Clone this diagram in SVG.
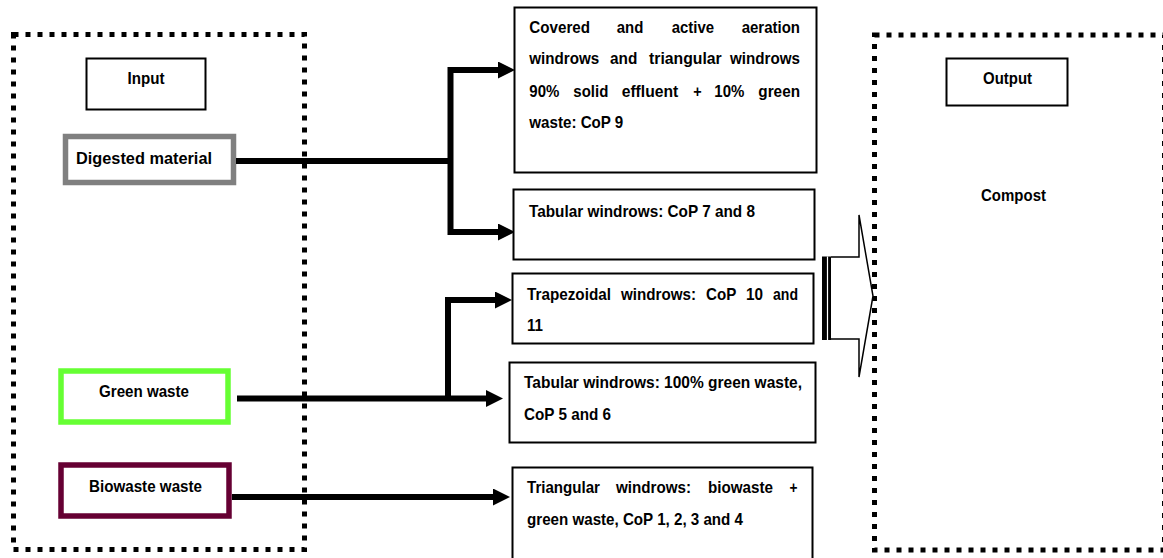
<svg xmlns="http://www.w3.org/2000/svg" width="1163" height="558" viewBox="0 0 1163 558">
<style>
text{font-family:"Liberation Sans",Arial,sans-serif;font-weight:bold;font-size:17px;fill:#000}
.c{text-anchor:middle}
.box{fill:#fff;stroke:#000;stroke-width:2}
.dot{fill:none;stroke:#000;stroke-width:5;stroke-dasharray:5 7}
.conn{fill:none;stroke:#000;stroke-width:6;stroke-linejoin:miter}
.inbox{fill:#fff;stroke-width:5.5}
</style>
<defs>
<marker id="ah" markerUnits="userSpaceOnUse" markerWidth="18" markerHeight="18" refX="5" refY="8.5" orient="auto">
<path d="M0,0 L17,8.5 L0,17 z" fill="#000"/>
</marker>
</defs>

<g id="input-frame">
<rect class="dot" x="13.5" y="34.5" width="291" height="515"/>
</g>
<g id="output-frame">
<rect class="dot" x="874.5" y="35" width="290" height="515"/>
</g>

<g id="input-title">
<rect class="box" x="86.5" y="58.5" width="119" height="51" stroke-width="1.5"/>
<text class="c" x="146" y="84" textLength="37" lengthAdjust="spacingAndGlyphs">Input</text>
</g>
<g id="digested">
<rect class="inbox" x="65.5" y="136.5" width="168" height="46" stroke="#808080"/>
<text class="c" x="144" y="164" textLength="136" lengthAdjust="spacingAndGlyphs">Digested material</text>
</g>
<g id="green">
<rect class="inbox" x="61" y="371" width="167" height="51" stroke="#66FF33"/>
<text class="c" x="144" y="397" textLength="90" lengthAdjust="spacingAndGlyphs">Green waste</text>
</g>
<g id="biowaste">
<rect class="inbox" x="61" y="465" width="168" height="51" stroke="#660033"/>
<text class="c" x="145.5" y="492" textLength="113" lengthAdjust="spacingAndGlyphs">Biowaste waste</text>
</g>

<g id="connectors">
<path class="conn" d="M236,161 H451"/>
<path class="conn" d="M450.5,161 V70 H503" marker-end="url(#ah)"/>
<path class="conn" d="M450.5,161 V232 H503" marker-end="url(#ah)"/>
<path class="conn" d="M237,398.5 H491" marker-end="url(#ah)"/>
<path class="conn" d="M448,398.5 V300 H500" marker-end="url(#ah)"/>
<path class="conn" d="M232,497 H498" marker-end="url(#ah)"/>
</g>

<g id="p1">
<rect class="box" x="514.5" y="7.5" width="302" height="165"/>
<text y="32.5"><tspan x="529.3" textLength="60.7" lengthAdjust="spacingAndGlyphs">Covered</tspan> <tspan x="616.7" textLength="26.6" lengthAdjust="spacingAndGlyphs">and</tspan> <tspan x="671.7" textLength="42.3" lengthAdjust="spacingAndGlyphs">active</tspan> <tspan x="741.7" textLength="58.3" lengthAdjust="spacingAndGlyphs">aeration</tspan></text>
<text y="64"><tspan x="529.3" textLength="70" lengthAdjust="spacingAndGlyphs">windrows</tspan> <tspan x="610" textLength="27.3" lengthAdjust="spacingAndGlyphs">and</tspan> <tspan x="649" textLength="72.7" lengthAdjust="spacingAndGlyphs">triangular</tspan> <tspan x="730" textLength="70" lengthAdjust="spacingAndGlyphs">windrows</tspan></text>
<text y="96.5"><tspan x="529.3" textLength="30" lengthAdjust="spacingAndGlyphs">90%</tspan> <tspan x="573.3" textLength="35" lengthAdjust="spacingAndGlyphs">solid</tspan> <tspan x="621.7" textLength="56.6" lengthAdjust="spacingAndGlyphs">effluent</tspan> <tspan x="693.3" textLength="8.4" lengthAdjust="spacingAndGlyphs">+</tspan> <tspan x="714.3" textLength="30" lengthAdjust="spacingAndGlyphs">10%</tspan> <tspan x="758.3" textLength="41.7" lengthAdjust="spacingAndGlyphs">green</tspan></text>
<text x="529.3" y="128" textLength="94" lengthAdjust="spacingAndGlyphs">waste: CoP 9</text>
</g>
<g id="p2">
<rect class="box" x="513.5" y="189.5" width="301" height="70"/>
<text x="529" y="217" textLength="226" lengthAdjust="spacingAndGlyphs">Tabular windrows: CoP 7 and 8</text>
</g>
<g id="p3">
<rect class="box" x="512.5" y="273.5" width="301" height="70"/>
<text y="300"><tspan x="527" textLength="84" lengthAdjust="spacingAndGlyphs">Trapezoidal</tspan> <tspan x="621" textLength="75" lengthAdjust="spacingAndGlyphs">windrows:</tspan> <tspan x="706" textLength="30" lengthAdjust="spacingAndGlyphs">CoP</tspan> <tspan x="746" textLength="17" lengthAdjust="spacingAndGlyphs">10</tspan> <tspan x="773" textLength="25" lengthAdjust="spacingAndGlyphs">and</tspan></text>
<text x="527" y="331" textLength="16" lengthAdjust="spacingAndGlyphs">11</text>
</g>
<g id="p4">
<rect class="box" x="509.5" y="362.5" width="306" height="80"/>
<text x="524" y="388" textLength="278" lengthAdjust="spacingAndGlyphs">Tabular windrows: 100% green waste,</text>
<text x="524" y="420" textLength="87" lengthAdjust="spacingAndGlyphs">CoP 5 and 6</text>
</g>
<g id="p5">
<rect class="box" x="512.5" y="467.5" width="300" height="100"/>
<text y="493"><tspan x="527" textLength="73" lengthAdjust="spacingAndGlyphs">Triangular</tspan> <tspan x="616" textLength="75" lengthAdjust="spacingAndGlyphs">windrows:</tspan> <tspan x="708" textLength="65" lengthAdjust="spacingAndGlyphs">biowaste</tspan> <tspan x="789.5" textLength="8" lengthAdjust="spacingAndGlyphs">+</tspan></text>
<text x="527" y="525" textLength="216" lengthAdjust="spacingAndGlyphs">green waste, CoP 1, 2, 3 and 4</text>
</g>

<g id="merge-arrow">
<path d="M831,257 H859 V215 L873,296 L859,377 V339 H831" fill="#fff" stroke="#000" stroke-width="1.5"/>
<rect x="822" y="256.5" width="9" height="83.5" fill="#000"/>
<line x1="827.5" y1="256.5" x2="827.5" y2="340" stroke="#fff" stroke-width="1.2"/>
</g>

<g id="output-title">
<rect class="box" x="946.5" y="58.5" width="121" height="47" stroke-width="1.5"/>
<text class="c" x="1007.5" y="84" textLength="49" lengthAdjust="spacingAndGlyphs">Output</text>
</g>
<g id="compost">
<text class="c" x="1013.5" y="201" textLength="65" lengthAdjust="spacingAndGlyphs">Compost</text>
</g>
</svg>
